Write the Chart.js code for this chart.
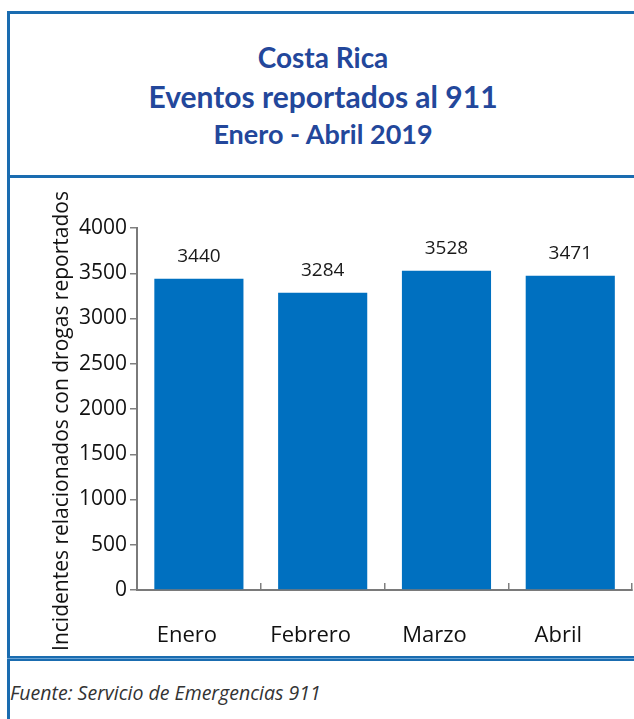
<!DOCTYPE html>
<html>
<head>
<meta charset="utf-8">
<script src="https://cdn.jsdelivr.net/npm/chart.js@4"></script>
<style>
    body { margin: 0; width: 634px; height: 719px; overflow: hidden; background: #fff; position: relative; }
    .frame { position: absolute; left: 7px; top: 11px; width: 700px; height: 800px;
             border-left: 3px solid #1a6cb0; border-top: 3px solid #1a6cb0; }
    .sep { position: absolute; left: 7px; width: 700px; height: 3px; background: #1a6cb0; }
    .sep2 { position: absolute; left: 7px; width: 700px; height: 1px; top: 656px;
            border-top: 2px solid #1a6cb0; border-bottom: 2px solid #1a6cb0; background: #6aa3d6; }
    .title { position: absolute; left: 7px; width: 632px; text-align: center; color: #23479b;
             font-family: Lato, sans-serif; font-weight: bold; }
    .wrap { position: absolute; left: 10px; top: 180px; width: 624px; height: 476px; }
    .source { position: absolute; left: 10px; top: 679px; font-family: "Open Sans", sans-serif;
              font-style: italic; font-size: 19.5px; color: #333; }
</style>
</head>
<body>
<div class="frame"></div>
<div class="title" style="top:40px;font-size:28px;">Costa Rica</div>
<div class="title" style="top:78px;font-size:30px;">Eventos reportados al 911</div>
<div class="title" style="top:117px;font-size:27px;">Enero - Abril 2019</div>
<div class="sep" style="top:175px;"></div>
<div class="wrap"><canvas id="grafico"></canvas></div>
<div class="sep2"></div>
<div class="source">Fuente: Servicio de Emergencias 911</div>

<script>
// Données du graphique
const meses = ['Enero', 'Febrero', 'Marzo', 'Abril'];
const eventos = [3440, 3284, 3528, 3471];
const ticksY = [0, 500, 1000, 1500, 2000, 2500, 3000, 3500, 4000];
const tituloY = 'Incidentes relacionados con drogas reportados';

// Étiquettes de valeur au-dessus des barres + titre de l'axe Y
const etiquettes = {
    id: 'etiquettes',
    afterDatasetsDraw(chart) {
        const ctx = chart.ctx;
        ctx.save();
        ctx.font = '19px "Open Sans"';
        ctx.fillStyle = '#1a1a1a';
        ctx.textAlign = 'center';
        ctx.textBaseline = 'middle';
        chart.getDatasetMeta(0).data.forEach((bar, i) => {
            ctx.fillText(eventos[i], bar.x, bar.y - 22);
        });
        // titre vertical, un peu plus bas que le centre de la zone
        const area = chart.chartArea;
        ctx.font = '21px "Open Sans"';
        ctx.fillStyle = '#111';
        ctx.translate(chart.scales.y.left + 16, (area.top + area.bottom) / 2 + 12);
        ctx.rotate(-Math.PI / 2);
        ctx.fillText(tituloY, 0, 0);
        ctx.restore();
    }
};

new Chart(document.getElementById('grafico'), {
    type: 'bar',
    data: {
        labels: meses,
        datasets: [{
            data: eventos,
            backgroundColor: '#0070c0',
            barPercentage: 0.72,
            categoryPercentage: 1
        }]
    },
    options: {
        responsive: true,
        maintainAspectRatio: false,
        animation: false,
        layout: { padding: { left: 36, top: 48, right: 0, bottom: 0 } },
        plugins: {
            legend: { display: false },
            tooltip: { enabled: false }
        },
        scales: {
            x: {
                offset: true,
                grid: { offset: true, drawOnChartArea: false, drawTicks: true, tickLength: -7, color: '#808080', lineWidth: 1.5 },
                border: { color: '#7a7a7a', width: 2 },
                ticks: { color: '#111', padding: 40, labelOffset: -12, font: { family: 'Open Sans', size: 22 } },
                afterFit: s => { s.height = 66; }
            },
            y: {
                min: 0,
                max: 4000,
                afterBuildTicks: s => { s.ticks = ticksY.map(v => ({ value: v })); },
                grid: { drawOnChartArea: false, tickLength: 7, color: '#808080', lineWidth: 1.5 },
                border: { color: '#7a7a7a', width: 2 },
                ticks: {
                    color: '#111',
                    padding: 3,
                    font: { family: 'Open Sans', size: 21 },
                    callback: v => String(v)
                },
                title: { display: false },
                afterFit: s => { s.width = 91; }
            }
        }
    },
    plugins: [etiquettes]
});
</script>
</body>
</html>
